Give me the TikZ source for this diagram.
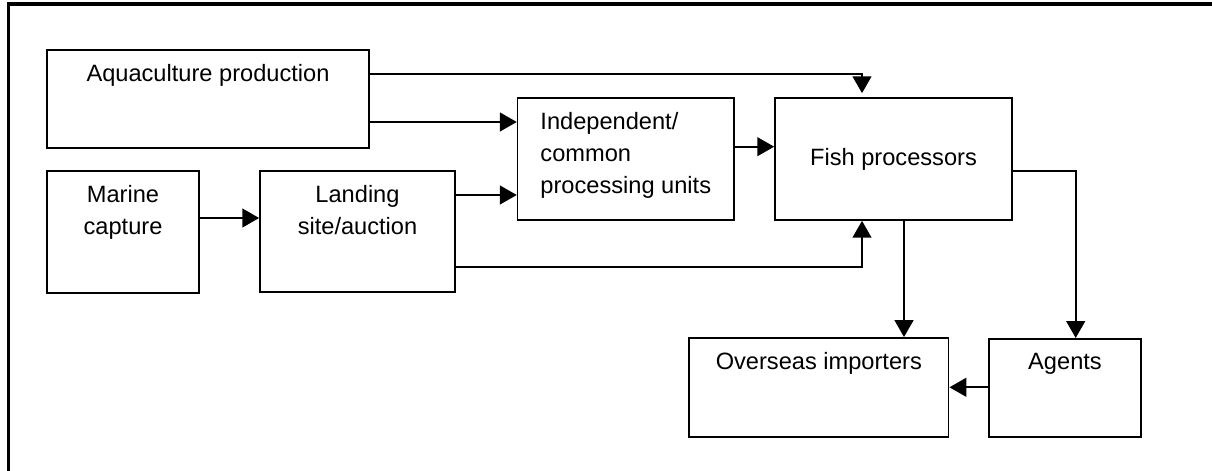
\documentclass[tikz,border=0pt]{standalone}
\usepackage{fontspec}
\setmainfont{Liberation Sans}
\usetikzlibrary{arrows.meta}

\tikzset{
  box/.style={draw, line width=1.2pt, inner sep=0},
  lbl/.style={anchor=north, inner sep=0, yshift=-0.375cm, align=center},
  flow/.style={line width=1.2pt, -{Triangle[length=0.42cm, width=0.47cm]}}
}

\begin{document}
\begin{tikzpicture}[x=0.025cm, y=-0.025cm, font=\fontsize{16.8}{22.7}\selectfont]
  \useasboundingbox (0,0) rectangle (1212,471);
  \draw[line width=2.2pt] (1212,4) -- (8.5,4) -- (8.5,471);

  \node[box, minimum width=8.05cm, minimum height=2.45cm, label={[lbl]north:Aquaculture production}] (aqua) at (208,99) {};
  \node[box, minimum width=3.8cm, minimum height=3.05cm, label={[lbl]north:{Marine\\capture}}] (marine) at (123,232) {};
  \node[box, minimum width=4.875cm, minimum height=3.025cm, label={[lbl]north:{Landing\\site/auction}}] (landing) at (357.5,231.5) {};
  \node[box, minimum width=5.41cm, minimum height=3.05cm, label={[lbl, align=left]north:{Independent/\\common\\processing units}}] (indep) at (625.8,159.3) {};
  \node[box, minimum width=5.925cm, minimum height=3.05cm] (fish) at (893.5,159) {Fish processors};
  \node[box, minimum width=6.49cm, minimum height=2.47cm, label={[lbl]north:Overseas importers}] (overseas) at (818.8,387.3) {};
  \node[box, minimum width=3.8cm, minimum height=2.45cm, label={[lbl]north:Agents}] (agents) at (1065,387.8) {};

  \draw[flow, shorten >=0.1cm] (aqua.east |- 0,74) -| (862,0 |- fish.north);
  \draw[flow] (aqua.east |- 0,122) -- (indep.west |- 0,122);
  \draw[flow] (marine.east |- 0,218) -- (landing.west |- 0,218);
  \draw[flow] (landing.east |- 0,195) -- (indep.west |- 0,195);
  \draw[flow] (landing.east |- 0,266.7) -| (862,0 |- fish.south);
  \draw[flow] (indep.east |- 0,146.7) -- (fish.west |- 0,146.7);
  \draw[flow] (fish.east |- 0,170.7) -| (1075.7,0 |- agents.north);
  \draw[flow] (904,0 |- fish.south) -- (904,0 |- overseas.north);
  \draw[flow] (agents.west |- 0,387.3) -- (overseas.east |- 0,387.3);
\end{tikzpicture}
\end{document}
